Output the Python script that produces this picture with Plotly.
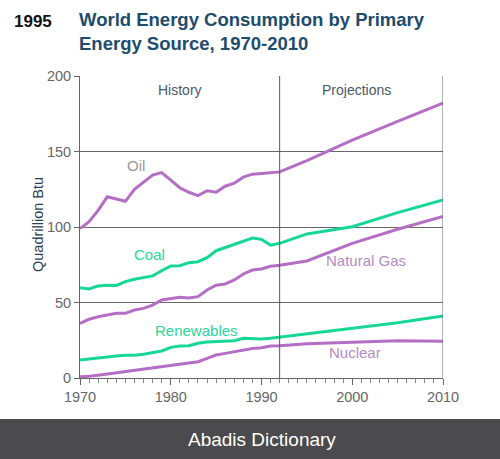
import plotly.graph_objects as go

hist_years = list(range(1970, 1993))
oil_hist = [99, 103.5, 111, 120, 118.5, 117, 125, 130, 134.4, 136, 131, 126, 123, 120.8, 124, 123, 127, 129, 133, 135, 135.5, 136, 136.5]
coal_hist = [59.8, 59, 61, 61.5, 61.3, 63.8, 65.4, 66.5, 67.6, 71, 74.2, 74.4, 76.4, 77, 79.7, 84.3, 86.5, 88.7, 91, 92.7, 91.8, 88, 89.2]
gas_hist = [36.2, 38.9, 40.6, 41.9, 42.8, 42.8, 45, 46.1, 48.3, 51.7, 52.8, 53.4, 53, 53.9, 58.3, 61.4, 62.3, 64.9, 68.9, 71.5, 72.2, 74, 74.6]
renew_hist = [11.9, 12.6, 13.5, 13.7, 14.6, 15, 15, 15.7, 17, 17.9, 20.3, 21.2, 21.4, 23, 23.8, 24, 24.5, 24.7, 26.3, 25.8, 25.8, 26.3, 27]
nuc_hist = [0.9, 1.1, 1.8, 2.6, 3.7, 4.4, 5.1, 6, 6.8, 7.3, 8.2, 9.1, 9.7, 10.8, 13, 15.2, 16.3, 17.4, 19, 19.6, 20.1, 21.2, 21.4]

proj_years = [1992, 1995, 2000, 2005, 2010]
oil_proj = [136.5, 144, 157.5, 170, 182]
coal_proj = [89.2, 95.4, 100.2, 109.5, 118]
gas_proj = [74.6, 77.5, 89.2, 98.5, 107]
renew_proj = [27, 29.5, 32.9, 36.6, 41]
nuc_proj = [21.4, 22.7, 23.6, 24.7, 24.3]

x_ticks = [1970, 1980, 1990, 2000, 2010]
y_ticks = [0, 50, 100, 150, 200]

PURPLE = "#b46fc4"
GREEN = "#16d894"
FONT = "Liberation Sans, Arial, sans-serif"

fig = go.Figure()
series = [
    (oil_hist, oil_proj, PURPLE),
    (coal_hist, coal_proj, GREEN),
    (gas_hist, gas_proj, PURPLE),
    (renew_hist, renew_proj, GREEN),
    (nuc_hist, nuc_proj, PURPLE),
]
for h, p, c in series:
    fig.add_trace(go.Scatter(x=hist_years + proj_years[1:], y=h + p[1:], mode="lines",
                             line=dict(color=c, width=3), showlegend=False, hoverinfo="skip"))

L, R, T, B = 80, 57, 76, 81
W, H = 500, 459
pw, ph = W - L - R, H - T - B

def px(xp):
    return (xp - L) / pw

def py(yp):
    return (H - B - yp) / ph

shapes = [
    dict(type="line", xref="x", yref="y", x0=1992, x1=1992, y0=0, y1=200, line=dict(color="#555", width=1)),
    dict(type="line", xref="x", yref="y", x0=2010, x1=2010, y0=0, y1=200, line=dict(color="#666", width=1)),
    dict(type="rect", xref="paper", yref="paper", x0=px(0), x1=px(500), y0=py(459), y1=py(419),
         fillcolor="#4b4a4d", line=dict(width=0), layer="above"),
]

ann = []
def txt(x, y, s, color, size=15, xref="x", yref="y", **kw):
    kw.setdefault("xanchor", "center")
    kw.setdefault("yanchor", "middle")
    ann.append(dict(x=x, y=y, xref=xref, yref=yref, text=s, showarrow=False,
                    font=dict(color=color, size=size, family=FONT), **kw))

txt(1981, 191, "History", "#4a5868", 14)
txt(2000.5, 191, "Projections", "#4a5868", 14)
txt(1976.2, 140.5, "Oil", "#9a9a9a")
txt(1977.7, 81.5, "Coal", "#2ad69a")
txt(2001.5, 77.5, "Natural Gas", "#b48cc6")
txt(1982.8, 31.5, "Renewables", "#2ad69a")
txt(2000.3, 17, "Nuclear", "#b48cc6")
txt(px(12), py(21), "<b>1995</b>", "#111", 17, xref="paper", yref="paper", xanchor="left")
txt(px(77), py(31), "<b>World Energy Consumption by Primary<br>Energy Source, 1970-2010</b>", "#1e4c6c", 18.5,
    xref="paper", yref="paper", xanchor="left", align="left")
txt(px(38), py(225), "Quadrillion Btu", "#2a3e55", 14.5, xref="paper", yref="paper", textangle=-90)
txt(0.5, py(439), "Abadis Dictionary", "#ffffff", 19, xref="paper", yref="paper")

fig.update_layout(
    width=W, height=H, margin=dict(l=L, r=R, t=T, b=B, autoexpand=False),
    paper_bgcolor="white", plot_bgcolor="white",
    shapes=shapes, annotations=ann,
    font=dict(family=FONT, color="#666", size=14),
    xaxis=dict(range=[1970, 2010], tickvals=x_ticks, showgrid=False, zeroline=False,
               showline=True, linecolor="#666", ticks="outside", ticklen=6, tickcolor="#666",
               minor=dict(dtick=1, ticks="outside", ticklen=4, tickcolor="#888"),
               tickfont=dict(size=14.5, color="#666"), fixedrange=True, automargin=False),
    yaxis=dict(range=[0, 200], tickvals=y_ticks, showgrid=True, gridcolor="#666", gridwidth=1,
               zeroline=False, showline=True, linecolor="#666", ticks="outside", ticklen=5,
               tickcolor="#666", tickfont=dict(size=14.5, color="#666"),
               fixedrange=True, automargin=False),
)

fig.write_html("out.html", config={"displayModeBar": False},
               post_script="document.body.style.margin='0';document.body.style.overflow='hidden';")
